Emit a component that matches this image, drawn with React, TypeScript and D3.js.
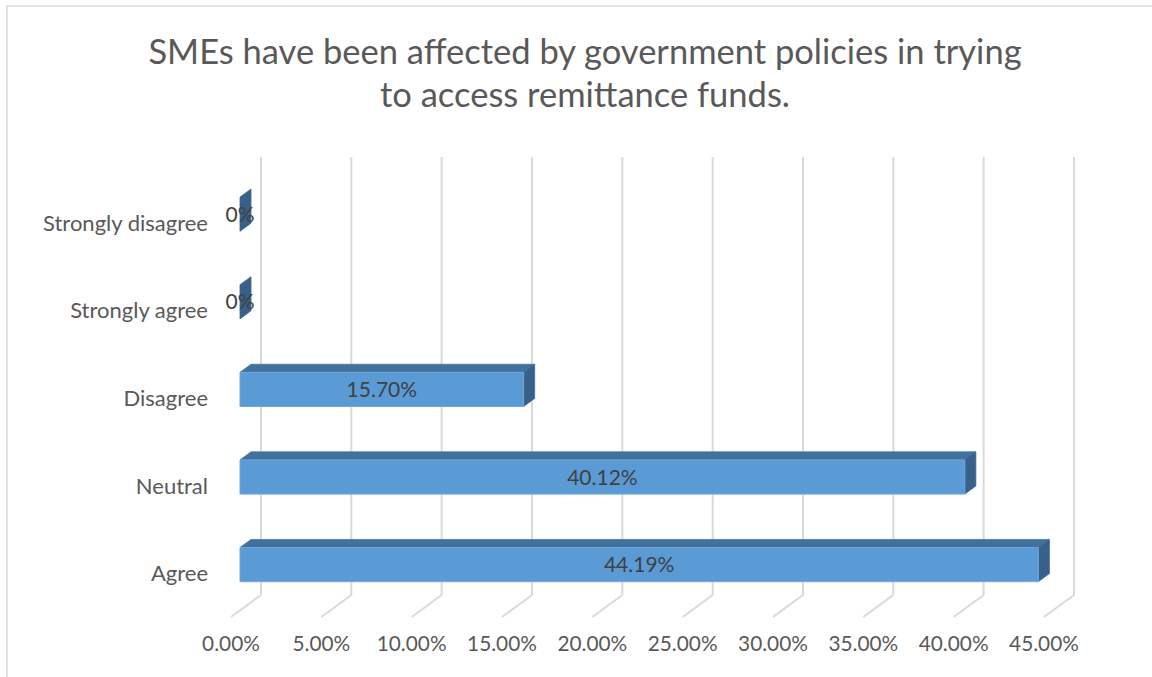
import React from "react";
import * as d3 from "d3";

const categories = ["Strongly disagree", "Strongly agree", "Disagree", "Neutral", "Agree"];
const values = [0, 0, 15.7, 40.12, 44.19];
const valueLabels = ["0%", "0%", "15.70%", "40.12%", "44.19%"];
const ticks = [0, 5, 10, 15, 20, 25, 30, 35, 40, 45];
const titleLines = ["SMEs have been affected by government policies in trying", "to access remittance funds."];

const W = 1152, H = 677;
const FONT = "Lato, 'Open Sans', sans-serif";
const DX = -30, DY = 22; // back -> front depth vector
const TF = 0.7, TB = 0.333;

export default function App() {
  const x = d3.scaleLinear().domain([0, 45]).range([261, 1074]);
  const y = d3.scaleBand<string>().domain(categories).range([157, 595]).paddingInner(0.61).paddingOuter(0.305);
  const wallTop = 157, wallBot = 595;
  const P = (v: number, yy: number, t: number): [number, number] => [x(v) + t * DX, yy + t * DY];
  const pts = (arr: [number, number][]) => arr.map((p) => p.join(",")).join(" ");

  return (
    <svg width={W} height={H} style={{ position: "fixed", left: 0, top: 0 }} fontFamily={FONT}>
      <rect x={0} y={0} width={W} height={H} fill="#fff" />
      <rect x={7} y={6} width={1200} height={720} fill="#fff" stroke="#d9d9d9" strokeWidth={1.5} />
      {titleLines.map((t, i) => (
        <text key={i} x={585} y={64 + i * 43} textAnchor="middle" fontSize={34.5} fill="#595959">{t}</text>
      ))}
      {ticks.map((t) => (
        <g key={t}>
          <line x1={x(t)} x2={x(t)} y1={wallTop} y2={wallBot} stroke="#d9d9d9" strokeWidth={2} />
          <line x1={x(t)} y1={wallBot} x2={x(t) + DX} y2={wallBot + DY} stroke="#d9d9d9" strokeWidth={2} />
          <text x={x(t) + DX} y={651} textAnchor="middle" fontSize={20.8} fill="#595959">{t.toFixed(2) + "%"}</text>
        </g>
      ))}
      {categories.map((c, i) => {
        const y0 = (y(c) as number) - 2;
        const y1 = y0 + y.bandwidth();
        const v = values[i];
        const front: [number, number][] = [P(0, y0, TF), P(v, y0, TF), P(v, y1, TF), P(0, y1, TF)];
        const top: [number, number][] = [P(0, y0, TF), P(v, y0, TF), P(v, y0, TB), P(0, y0, TB)];
        const side: [number, number][] = [P(v, y0, TF), P(v, y0, TB), P(v, y1, TB), P(v, y1, TF)];
        return (
          <g key={c}>
            {v > 0 && <polygon points={pts(top)} fill="#41719c" stroke="#4677a5" strokeWidth={0.8} />}
            <polygon points={pts(side)} fill="#386089" stroke="#3d6894" strokeWidth={0.8} />
            {v > 0 && <polygon points={pts(front)} fill="#5b9bd5" stroke="#6ea7da" strokeWidth={1} />}
          </g>
        );
      })}
      {categories.map((c, i) => {
        const y0 = (y(c) as number) - 2;
        const yc = y0 + y.bandwidth() / 2 + TF * DY;
        const xc = (P(0, 0, TF)[0] + P(values[i], 0, TF)[0]) / 2;
        return (
          <g key={c + "l"}>
            <text x={xc} y={yc + 7.5} textAnchor="middle" fontSize={21} fill="#404040">{valueLabels[i]}</text>
            <text x={208} y={(y(c) as number) + y.bandwidth() / 2 + DY + 8} textAnchor="end" fontSize={22} fill="#595959">{c}</text>
          </g>
        );
      })}
    </svg>
  );
}
